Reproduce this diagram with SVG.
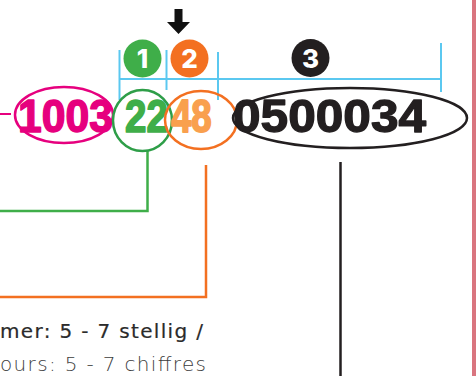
<svg xmlns="http://www.w3.org/2000/svg" width="476" height="376" viewBox="0 0 476 376">
<style>
.num{font-family:"Liberation Sans",Arial,sans-serif;font-weight:bold;stroke-width:1.4;stroke-linejoin:round}
.badge{font-family:Inter,"Liberation Sans",Arial,sans-serif;font-weight:800;font-size:26px;fill:#fff;text-anchor:middle}
.blue{stroke:#5bc8f0;stroke-width:2;fill:none}
.ring{fill:none;stroke-width:2.5}
.conn{fill:none;stroke-width:2.5}
.lbl{font-family:"DejaVu Sans","Noto Sans",sans-serif;font-size:20px}
</style>
<rect width="476" height="376" fill="#fff"/>
<rect x="472" y="0" width="4" height="376" fill="#d9757f"/>
<g id="ruler">
<line class="blue" x1="119.5" y1="50" x2="119.5" y2="100"/>
<line class="blue" x1="166.5" y1="50" x2="166.5" y2="90"/>
<line class="blue" x1="218" y1="52" x2="218" y2="100"/>
<line class="blue" x1="119.5" y1="79" x2="441" y2="79"/>
<line class="blue" x1="441" y1="43" x2="441" y2="92"/>
</g>
<g id="arrow">
<polygon points="174.5,9 182.5,9 182.5,22 190,22 178.5,34 167,22 174.5,22" fill="#111"/>
</g>
<g id="badge1"><circle cx="142.5" cy="58.5" r="19" fill="#3fae49"/><text class="badge" x="142.5" y="68">1</text></g>
<g id="badge2"><circle cx="189.5" cy="58.5" r="19" fill="#f37021"/><text class="badge" x="189.5" y="68">2</text></g>
<g id="badge3"><circle cx="310.5" cy="58" r="19" fill="#231f20"/><text class="badge" x="310.5" y="67.5">3</text></g>
<g id="connectors">
<line x1="0" y1="114" x2="11" y2="114" stroke="#e6007e" stroke-width="2"/>
<polyline class="conn" stroke="#3fae49" points="147.5,151 147.5,211 0,211"/>
<polyline class="conn" stroke="#f37021" points="206,165 206,297 0,297"/>
<line x1="340.5" y1="162" x2="340.5" y2="376" stroke="#231f20" stroke-width="2.5"/>
</g>
<g id="part0">
<ellipse class="ring" cx="64" cy="115" rx="49" ry="28" stroke="#e6007e"/>
<text class="num" transform="translate(18,132.3) scale(1,1.096)" font-size="42.7" fill="#e6007e" stroke="#e6007e">1003</text>
</g>
<g id="part1">
<ellipse class="ring" cx="142.5" cy="120.5" rx="29.5" ry="30.5" stroke="#2e9e48"/>
<text class="num" transform="translate(125,132.3) scale(1,1.21)" font-size="38.5" fill="#3fae49" stroke="#3fae49">22</text>
</g>
<g id="part2">
<ellipse class="ring" cx="201" cy="120" rx="36" ry="29" stroke="#f37021"/>
<text class="num" transform="translate(171,132.3) scale(1,1.28)" font-size="36.6" fill="#f9a04e" stroke="#f9a04e">48</text>
</g>
<g id="part3">
<ellipse class="ring" cx="350" cy="118" rx="117" ry="30" stroke="#231f20"/>
<text class="num" transform="translate(233,132.3) scale(1,0.94)" font-size="49.6" fill="#231f20" stroke="#231f20">0500034</text>
</g>
<g id="labels">
<text class="lbl" x="0" y="338" fill="#2b2b2b" stroke="#2b2b2b" stroke-width="0.2" textLength="203" lengthAdjust="spacing">mer: 5 - 7 stellig /</text>
<text class="lbl" x="0" y="371" fill="#3c3c3c" font-weight="300" textLength="206" lengthAdjust="spacing">ours: 5 - 7 chiffres</text>
</g>
</svg>
